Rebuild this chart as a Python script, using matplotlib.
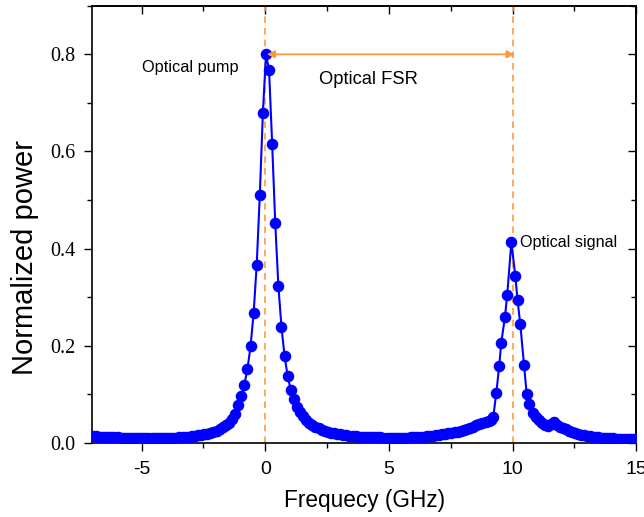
# ── IMPORTS ───────────────────────────────────────────────────────────────────

import matplotlib
matplotlib.use("Agg")
import matplotlib.pyplot as plt
from matplotlib.ticker import MultipleLocator, NullFormatter

# ── CONFIGURATION ─────────────────────────────────────────────────────────────

OUTPUT_PNG = "out.png"

BLUE   = "#0000FF"   # measured spectrum
ORANGE = "#FF9A3C"   # pump / signal guide lines and FSR arrow

SANS  = ["Liberation Sans", "DejaVu Sans"]
SERIF = ["Liberation Serif", "DejaVu Serif"]

plt.rcParams["axes.unicode_minus"] = False   # plain hyphen as in the original

# ── DATA ──────────────────────────────────────────────────────────────────────

# Frequency offset in GHz, one entry per measured point
freq_ghz = [
    -6.97, -6.845, -6.72, -6.595, -6.47, -6.345, -6.22, -6.095,
    -5.97, -5.845, -5.72, -5.595, -5.47, -5.345, -5.22, -5.095,
    -4.97, -4.845, -4.72, -4.595, -4.47, -4.345, -4.22, -4.095,
    -3.97, -3.845, -3.72, -3.595, -3.47, -3.345, -3.22, -3.095,
    -2.97, -2.845, -2.72, -2.595, -2.47, -2.345, -2.22, -2.095,
    -1.97, -1.845, -1.72, -1.595, -1.47, -1.345, -1.22, -1.095,
    -0.97, -0.845, -0.72, -0.595, -0.47, -0.345, -0.22, -0.095,
    0.03, 0.155, 0.28, 0.405, 0.53, 0.655, 0.78, 0.905,
    1.03, 1.155, 1.28, 1.405, 1.53, 1.655, 1.78, 1.905,
    2.03, 2.155, 2.28, 2.405, 2.53, 2.655, 2.78, 2.905,
    3.03, 3.155, 3.28, 3.405, 3.53, 3.655, 3.78, 3.905,
    4.03, 4.155, 4.28, 4.405, 4.53, 4.655, 4.78, 4.905,
    5.03, 5.155, 5.28, 5.405, 5.53, 5.655, 5.78, 5.905,
    6.03, 6.155, 6.28, 6.405, 6.53, 6.655, 6.78, 6.905,
    7.03, 7.155, 7.28, 7.405, 7.53, 7.655, 7.78, 7.905,
    8.03, 8.155, 8.28, 8.405, 8.53, 8.655, 8.78, 8.905,
    9.03, 9.12, 9.22, 9.34, 9.46, 9.54, 9.69, 9.78,
    9.95, 10.11, 10.20, 10.31, 10.46, 10.57, 10.67, 10.84,
    10.95, 11.07, 11.19, 11.31, 11.43, 11.55, 11.67, 11.79,
    11.91, 12.03, 12.15, 12.27, 12.39, 12.51, 12.63, 12.75,
    12.87, 12.99, 13.11, 13.23, 13.35, 13.47, 13.59, 13.71,
    13.83, 13.95, 14.07, 14.19, 14.31, 14.43, 14.55, 14.67,
    14.79, 14.91, 15.03,
]

# Normalized optical power at each frequency above
norm_power = [
    0.0140, 0.0137, 0.0134, 0.0131, 0.0128, 0.0125, 0.0122, 0.0119,
    0.0116, 0.0113, 0.0111, 0.0109, 0.0107, 0.0105, 0.0103, 0.0101,
    0.0100, 0.0099, 0.0099, 0.0099, 0.0100, 0.0101, 0.0102, 0.0104,
    0.0106, 0.0108, 0.0111, 0.0114, 0.0118, 0.0122, 0.0127, 0.0133,
    0.0139, 0.0147, 0.0156, 0.0167, 0.0180, 0.0195, 0.0212, 0.0233,
    0.0257, 0.0287, 0.0323, 0.0366, 0.0420, 0.0490, 0.0600, 0.0780,
    0.096, 0.120, 0.152, 0.199, 0.267, 0.367, 0.510, 0.680,
    0.800, 0.767, 0.615, 0.452, 0.324, 0.239, 0.180, 0.138,
    0.110, 0.090, 0.075, 0.064, 0.055, 0.048, 0.042, 0.037,
    0.033, 0.030, 0.0275, 0.0253, 0.0234, 0.0217, 0.0202, 0.0189,
    0.0178, 0.0168, 0.0160, 0.0152, 0.0146, 0.0140, 0.0135, 0.0131,
    0.0128, 0.0126, 0.0124, 0.0121, 0.0118, 0.0116, 0.0114, 0.0112,
    0.0110, 0.0109, 0.0109, 0.0109, 0.0110, 0.0111, 0.0113, 0.0115,
    0.0118, 0.0121, 0.0125, 0.0130, 0.0136, 0.0143, 0.0151, 0.0160,
    0.0168, 0.0177, 0.0187, 0.0198, 0.0210, 0.0223, 0.0238, 0.0254,
    0.0272, 0.0292, 0.0315, 0.0340, 0.0365, 0.0388, 0.0408, 0.0428,
    0.0450, 0.0480, 0.054, 0.103, 0.159, 0.206, 0.259, 0.304,
    0.413, 0.344, 0.294, 0.245, 0.161, 0.101, 0.081, 0.061,
    0.053, 0.047, 0.042, 0.038, 0.036, 0.039, 0.043, 0.038,
    0.034, 0.031, 0.028, 0.025, 0.0228, 0.0208, 0.0190, 0.0175,
    0.0162, 0.0150, 0.0140, 0.0131, 0.0123, 0.0116, 0.0110, 0.0105,
    0.0101, 0.0098, 0.0095, 0.0093, 0.0091, 0.0089, 0.0088, 0.0087,
    0.0086, 0.0085, 0.0085,
]

pump_ghz   = 0.0     # optical pump line
signal_ghz = 10.0    # optical signal line (one FSR away)
fsr_level  = 0.8     # height of the FSR arrow

x_ticks = [-5, 0, 5, 10, 15]
y_ticks = [0.0, 0.2, 0.4, 0.6, 0.8]

# ── FIGURE ────────────────────────────────────────────────────────────────────

fig = plt.figure(figsize=(6.44, 5.17), dpi=100)
ax = fig.add_axes([0.143, 0.143, 0.845, 0.846])

# Spectrum: connected filled circles
ax.plot(freq_ghz, norm_power, "-o", color=BLUE, lw=1.5,
        ms=7.3, mec=BLUE, mfc=BLUE, zorder=3)

# Guide lines at pump and signal
for xv in (pump_ghz, signal_ghz):
    ax.axvline(xv, color=ORANGE, lw=1.2, ls=(0, (4, 3)), zorder=2)

# Double-headed FSR arrow
ax.annotate("", xy=(pump_ghz + 0.07, fsr_level), xytext=(signal_ghz + 0.08, fsr_level),
            arrowprops=dict(arrowstyle="<|-|>", color=ORANGE, lw=1.3,
                            mutation_scale=11, shrinkA=0, shrinkB=0),
            zorder=4)

# Text labels
ax.text(-3.03, 0.773, "Optical pump", ha="center", va="center",
        fontsize=11.8, family=SANS)
ax.text(4.19, 0.749, "Optical FSR", ha="center", va="center",
        fontsize=13.2, family=SANS)
ax.text(10.29, 0.413, "Optical signal", ha="left", va="center",
        fontsize=11.6, family=SANS)

# ── AXES STYLE ────────────────────────────────────────────────────────────────

ax.set_xlim(-7, 15)
ax.set_ylim(0, 0.9)

ax.set_xticks(x_ticks)
ax.set_yticks(y_ticks)
ax.xaxis.set_minor_locator(MultipleLocator(2.5))
ax.yaxis.set_minor_locator(MultipleLocator(0.1))
ax.set_yticklabels([f"{v:.1f}" for v in y_ticks])

ax.tick_params(which="both", direction="out", width=1.0, top=False, right=False)
ax.tick_params(which="major", length=6)
ax.tick_params(which="minor", length=3.5)
ax.tick_params(axis="x", pad=7)
ax.tick_params(axis="y", pad=6)
for lab in ax.get_xticklabels():
    lab.set_family(SANS)
    lab.set_fontsize(14)
for lab in ax.get_yticklabels():
    lab.set_family(SERIF)
    lab.set_fontsize(14.5)

# Mirror ticks on top and right, pointing inwards, no labels
top = ax.secondary_xaxis("top")
top.set_xticks(x_ticks)
top.xaxis.set_minor_locator(MultipleLocator(2.5))
top.xaxis.set_major_formatter(NullFormatter())
top.tick_params(which="both", direction="in", width=1.0)
top.tick_params(which="major", length=6)
top.tick_params(which="minor", length=3.5)

right = ax.secondary_yaxis("right")
right.set_yticks(y_ticks)
right.yaxis.set_minor_locator(MultipleLocator(0.1))
right.yaxis.set_major_formatter(NullFormatter())
right.tick_params(which="both", direction="in", width=1.0)
right.tick_params(which="major", length=6)
right.tick_params(which="minor", length=3.5)

for sp in list(ax.spines.values()) + [top.spines["top"], right.spines["right"]]:
    sp.set_linewidth(1.2)

ax.set_xlabel("Frequecy (GHz)", fontsize=16.3, family=SANS, labelpad=8)
ax.set_ylabel("Normalized power", fontsize=21, family=SANS)
ax.yaxis.set_label_coords(-0.097, 0.425)

fig.savefig(OUTPUT_PNG, dpi=100)
print("Saved", OUTPUT_PNG)
